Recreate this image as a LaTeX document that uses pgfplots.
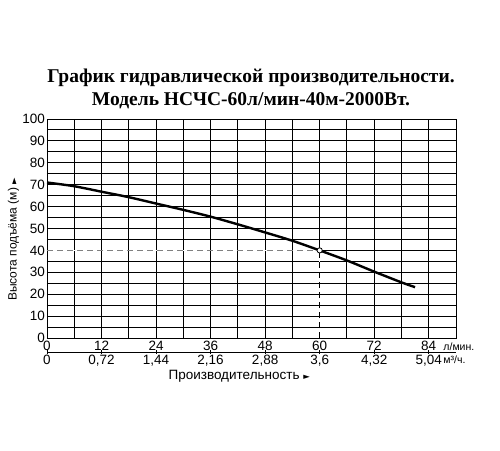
\documentclass[border=0pt]{standalone}
\usepackage{fontspec}
\setmainfont{Liberation Sans}
\newfontfamily\titlefont{Liberation Serif}
\newfontfamily\symfont{DejaVu Sans}
\usepackage{pgfplots}
\pgfplotsset{compat=1.18}

\newcommand{\tri}{{\symfont\fontsize{8.5}{8}\selectfont ►}}

\begin{document}
\begin{tikzpicture}
\useasboundingbox (0,0) rectangle (500pt,450pt);

% title
\node[font=\titlefont\bfseries\fontsize{19.5}{23}\selectfont, align=center]
  at (251pt,361pt) {График гидравлической производительности.\\Модель НСЧС-60л/мин-40м-2000Вт.};

% main chart: head vs flow (l/min)
\begin{axis}[
    at={(47pt,112pt)}, anchor=south west,
    width=409pt, height=219pt, scale only axis,
    xmin=0, xmax=90, ymin=0, ymax=100,
    xtick={0,12,...,84}, minor xtick={6,18,...,90},
    ytick={0,10,...,100}, minor ytick={5,15,...,95},
    grid=both,
    major grid style={black, line width=0.95pt},
    minor grid style={black, line width=0.95pt},
    axis line style={black, line width=0.95pt},
    major tick length=0pt, minor tick length=0pt,
    tick label style={font=\fontsize{13.5}{15}\selectfont},
    /pgf/number format/assume math mode=true,
    xticklabel style={anchor=base, yshift=-12pt},
    yticklabel style={inner sep=2pt},
    ylabel={Высота подъёма (м) \tri},
    ylabel style={at={(ticklabel cs:0.45)}, font=\fontsize{12}{13}\selectfont, inner sep=1pt},
    clip=false,
]
\addplot[white, line width=1.4pt, forget plot] coordinates {(0,40) (60,40)};
\addplot[white, line width=1.4pt, forget plot] coordinates {(60,0) (60,40)};
\addplot[gray, line width=1pt, dash pattern=on 6pt off 4pt, forget plot] coordinates {(0,40) (60,40)};
\addplot[black, line width=1pt, dash pattern=on 6pt off 4pt, forget plot] coordinates {(60,0) (60,40)};
\addplot[black, line width=2.4pt, smooth, tension=0.5] coordinates {
  (0,71) (6,69.3) (12,66.8) (18,64.3) (24,61.4) (30,58.5) (36,55.4)
  (42,51.9) (48,48.2) (54,44.4) (60,40) (66,35.4) (72,30.3) (78,25.4) (81,23.2)
};
\addplot[only marks, mark=*, mark size=2.6pt, mark options={fill=white, draw=black, line width=0.8pt}]
  coordinates {(60,40)};
\node[anchor=base west, font=\fontsize{10.5}{12}\selectfont, inner sep=0pt] at (axis cs:87.2,0) [yshift=-12pt] {л/мин.};
\end{axis}

% second scale: flow in m3/h
\begin{axis}[
    at={(47pt,98pt)}, anchor=south west,
    width=409pt, height=1pt, scale only axis,
    xmin=0, xmax=90, ymin=0, ymax=1,
    hide y axis,
    axis x line*=bottom,
    x axis line style={black, line width=0.8pt, -},
    xtick={0,12,...,84},
    xticklabels={0,{0,72},{1,44},{2,16},{2,88},{3,6},{4,32},{5,04}},
    tick align=center, major tick length=4pt,
    tick style={black, line width=0.7pt},
    tick label style={font=\fontsize{13.5}{15}\selectfont},
    xticklabel style={anchor=base, yshift=-10pt},
    xlabel={Производительность \tri},
    xlabel style={at={(ticklabel cs:0.47)}, font=\fontsize{13.5}{15}\selectfont, inner sep=0pt, yshift=-1pt},
    clip=false,
]
\addplot[draw=none, forget plot] coordinates {(0,0) (90,0)};
\node[anchor=base west, font=\fontsize{10.5}{12}\selectfont, inner sep=0pt] at (axis cs:87.2,0) [yshift=-11pt] {м³/ч.};
\end{axis}
\end{tikzpicture}
\end{document}
